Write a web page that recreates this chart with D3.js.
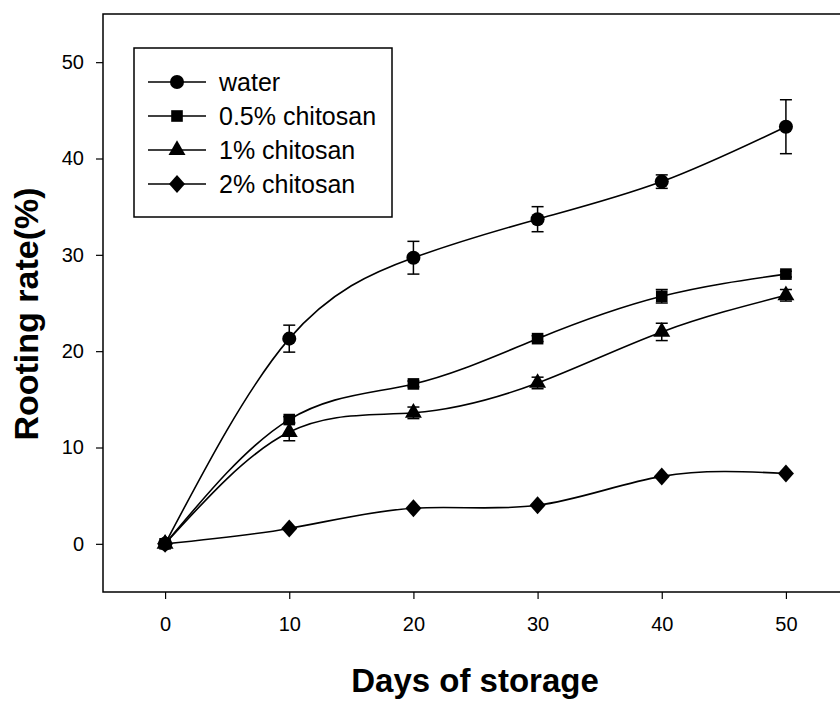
<!DOCTYPE html>
<html>
<head>
<meta charset="utf-8">
<script src="https://cdn.jsdelivr.net/npm/d3@7"></script>
<style>
  body { margin: 0; background: #fff; }
  svg { display: block; font-family: "Liberation Sans", Arial, sans-serif; }
</style>
</head>
<body>
<svg id="canvas"></svg>
<script>
// days of storage
const days = [0, 10, 20, 30, 40, 50]

const seriesNames = ['water', '0.5% chitosan', '1% chitosan', '2% chitosan']
const seriesShapes = ['circle', 'square', 'triangle', 'diamond']

const water = [0, 21.3, 29.7, 33.7, 37.6, 43.3]
const waterErr = [0, 1.4, 1.7, 1.3, 0.7, 2.8]
const chit05 = [0, 12.9, 16.6, 21.3, 25.7, 28.0]
const chit05Err = [0, 0.3, 0.3, 0.3, 0.7, 0.3]
const chit1 = [0, 11.6, 13.6, 16.7, 22.0, 25.8]
const chit1Err = [0, 0.9, 0.6, 0.6, 0.9, 0.6]
const chit2 = [0, 1.6, 3.7, 4.0, 7.0, 7.3]
const chit2Err = [0, 0, 0, 0, 0, 0]

const xTicks = [0, 10, 20, 30, 40, 50]
const yTicks = [0, 10, 20, 30, 40, 50]

const width = 840
const height = 701

const plotLeft = 103
const plotTop = 14
const plotBottom = 592
const plotRight = 848

let svg = d3.select('#canvas')
    .attr('width', width)
    .attr('height', height)

let xScale = d3.scaleLinear()
    .domain([-5, 55])
    .range([plotLeft, plotRight])

let yScale = d3.scaleLinear()
    .domain([-5, 55])
    .range([plotBottom, plotTop])

let allSeries = [
    { name: seriesNames[0], shape: seriesShapes[0], values: water, err: waterErr },
    { name: seriesNames[1], shape: seriesShapes[1], values: chit05, err: chit05Err },
    { name: seriesNames[2], shape: seriesShapes[2], values: chit1, err: chit1Err },
    { name: seriesNames[3], shape: seriesShapes[3], values: chit2, err: chit2Err }
]

let symbolFor = (shape) => {
    if (shape === 'circle') return d3.symbol().type(d3.symbolCircle).size(155)()
    if (shape === 'square') return d3.symbol().type(d3.symbolSquare).size(135)()
    if (shape === 'triangle') return d3.symbol().type(d3.symbolTriangle).size(125)()
    return 'M0,-9L8,0L0,9L-8,0Z'
}

// frame
svg.append('path')
    .attr('d', 'M' + plotRight + ',' + plotTop + 'H' + plotLeft + 'V' + plotBottom + 'H' + plotRight)
    .attr('fill', 'none')
    .attr('stroke', '#000')
    .attr('stroke-width', 1.5)

// axes
let xAxis = d3.axisBottom(xScale)
    .tickValues(xTicks)
    .tickSize(7)
    .tickPadding(18)
    .tickFormat(d3.format('d'))

let yAxis = d3.axisLeft(yScale)
    .tickValues(yTicks)
    .tickSize(7)
    .tickPadding(12)
    .tickFormat(d3.format('d'))

let gx = svg.append('g')
    .attr('transform', 'translate(0,' + plotBottom + ')')
    .call(xAxis)
gx.select('.domain').remove()

let gy = svg.append('g')
    .attr('transform', 'translate(' + plotLeft + ',0)')
    .call(yAxis)
gy.select('.domain').remove()

svg.selectAll('.tick line').attr('stroke-width', 1.2)
svg.selectAll('.tick text')
    .attr('font-size', 20)
    .attr('font-family', '"Liberation Sans", Arial, sans-serif')
    .attr('fill', '#000')

// axis titles
svg.append('text')
    .attr('x', 475)
    .attr('y', 692)
    .attr('text-anchor', 'middle')
    .attr('font-size', 33)
    .attr('font-weight', 'bold')
    .text('Days of storage')

svg.append('text')
    .attr('transform', 'translate(38,' + 314 + ') rotate(-90)')
    .attr('text-anchor', 'middle')
    .attr('font-size', 34)
    .attr('font-weight', 'bold')
    .text('Rooting rate(%)')

// lines
let line = d3.line()
    .x((d, i) => xScale(days[i]))
    .y((d) => yScale(d))
    .curve(d3.curveNatural)

allSeries.forEach((s) => {
    svg.append('path')
        .datum(s.values)
        .attr('d', line)
        .attr('fill', 'none')
        .attr('stroke', '#000')
        .attr('stroke-width', 1.6)

    // error bars
    s.values.forEach((v, i) => {
        let e = s.err[i]
        if (e <= 0) return
        let x = xScale(days[i])
        let g = svg.append('g')
            .attr('stroke', '#000')
            .attr('stroke-width', 1.5)
        g.append('line')
            .attr('x1', x).attr('x2', x)
            .attr('y1', yScale(v - e)).attr('y2', yScale(v + e))
        g.append('line')
            .attr('x1', x - 6).attr('x2', x + 6)
            .attr('y1', yScale(v - e)).attr('y2', yScale(v - e))
        g.append('line')
            .attr('x1', x - 6).attr('x2', x + 6)
            .attr('y1', yScale(v + e)).attr('y2', yScale(v + e))
    })

    svg.append('g')
        .selectAll('path')
        .data(s.values)
        .enter()
        .append('path')
        .attr('d', symbolFor(s.shape))
        .attr('transform', (d, i) => 'translate(' + xScale(days[i]) + ',' + yScale(d) + ')')
        .attr('fill', '#000')
})

// legend
let legend = svg.append('g')
legend.append('rect')
    .attr('x', 134)
    .attr('y', 48)
    .attr('width', 258)
    .attr('height', 169)
    .attr('fill', '#fff')
    .attr('stroke', '#000')
    .attr('stroke-width', 1.5)

allSeries.forEach((s, i) => {
    let y = 82 + i * 34
    legend.append('line')
        .attr('x1', 148).attr('x2', 206)
        .attr('y1', y).attr('y2', y)
        .attr('stroke', '#000')
        .attr('stroke-width', 1.4)
    legend.append('path')
        .attr('d', symbolFor(s.shape))
        .attr('transform', 'translate(177,' + y + ')')
        .attr('fill', '#000')
    legend.append('text')
        .attr('x', 219)
        .attr('y', y + 9)
        .attr('font-size', 25)
        .text(s.name)
})
</script>
</body>
</html>
